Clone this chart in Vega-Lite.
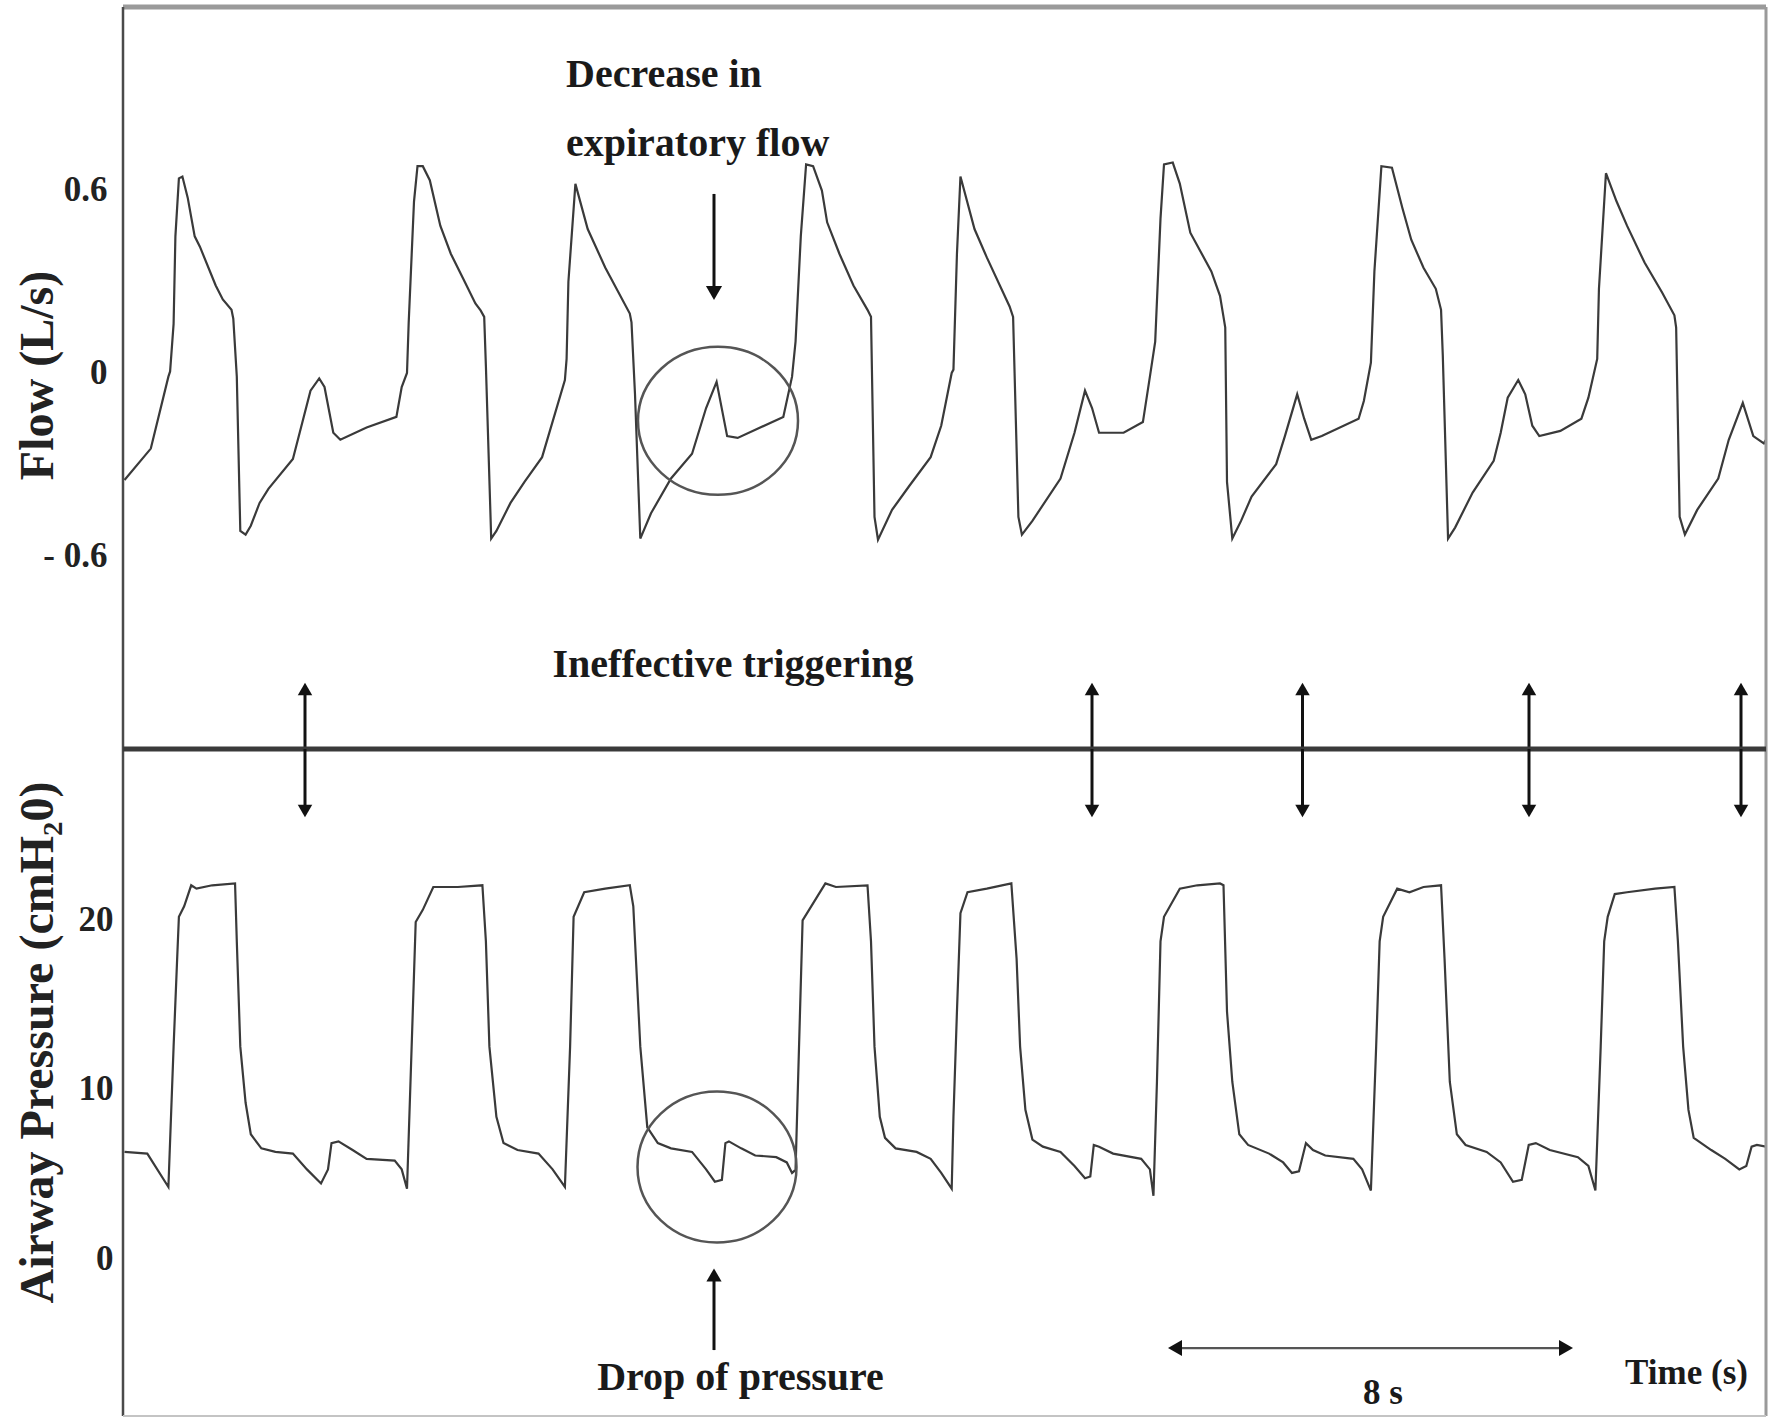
{
  "$schema": "https://vega.github.io/schema/vega-lite/v6.json",
  "background": "white",
  "padding": {"left": 13, "top": 4, "right": 0, "bottom": 0},
  "spacing": 0,
  "bounds": "flush",
  "config": {
    "view": {"stroke": null},
    "font": "Liberation Serif",
    "axis": {
      "labelFont": "Liberation Serif", "labelFontWeight": "bold", "labelFontSize": 35, "labelColor": "#222222",
      "titleFont": "Liberation Serif", "titleFontWeight": "bold", "titleFontSize": 48, "titleColor": "#222222",
      "titleAngle": 270, "titleAlign": "center", "titleBaseline": "middle",
      "ticks": false, "domain": false, "grid": false, "labelOverlap": false
    }
  },
  "datasets": {
    "one": [{}],
    "flow": [
      {"t":0.03,"flow":-0.351},{"t":0.556,"flow":-0.248},{"t":0.908,"flow":-0.012},{"t":0.942,"flow":0.005},{"t":1.012,"flow":0.161},{"t":1.048,"flow":0.448},{"t":1.118,"flow":0.638},{"t":1.188,"flow":0.644},{"t":1.294,"flow":0.575},{"t":1.434,"flow":0.448},{"t":1.538,"flow":0.414},{"t":1.854,"flow":0.287},{"t":1.996,"flow":0.241},{"t":2.17,"flow":0.207},{"t":2.206,"flow":0.178},{"t":2.276,"flow":-0.012},{"t":2.346,"flow":-0.518},{"t":2.452,"flow":-0.53},{"t":2.556,"flow":-0.501},{"t":2.732,"flow":-0.426},{"t":2.908,"flow":-0.38},{"t":3.398,"flow":-0.282},{"t":3.75,"flow":-0.058},{"t":3.924,"flow":-0.018},{"t":4.03,"flow":-0.046},{"t":4.206,"flow":-0.196},{"t":4.346,"flow":-0.219},{"t":4.872,"flow":-0.179},{"t":5.468,"flow":-0.144},{"t":5.574,"flow":-0.046},{"t":5.68,"flow":0.0},{"t":5.714,"flow":0.166},{"t":5.82,"flow":0.562},{"t":5.89,"flow":0.678},{"t":5.996,"flow":0.678},{"t":6.136,"flow":0.632},{"t":6.346,"flow":0.483},{"t":6.556,"flow":0.391},{"t":6.802,"flow":0.31},{"t":7.048,"flow":0.228},{"t":7.152,"flow":0.205},{"t":7.224,"flow":0.184},{"t":7.258,"flow":0.023},{"t":7.364,"flow":-0.543},{"t":7.468,"flow":-0.518},{"t":7.75,"flow":-0.426},{"t":8.03,"flow":-0.357},{"t":8.382,"flow":-0.276},{"t":8.838,"flow":-0.023},{"t":8.872,"flow":0.046},{"t":8.908,"flow":0.299},{"t":9.048,"flow":0.62},{"t":9.294,"flow":0.472},{"t":9.644,"flow":0.346},{"t":10.136,"flow":0.195},{"t":10.17,"flow":0.166},{"t":10.24,"flow":-0.07},{"t":10.346,"flow":-0.543},{"t":10.56,"flow":-0.46},{"t":10.96,"flow":-0.346},{"t":11.381,"flow":-0.265},{"t":11.662,"flow":-0.115},{"t":11.872,"flow":-0.029},{"t":12.083,"flow":-0.207},{"t":12.293,"flow":-0.213},{"t":13.206,"flow":-0.144},{"t":13.381,"flow":-0.012},{"t":13.451,"flow":0.103},{"t":13.556,"flow":0.448},{"t":13.662,"flow":0.684},{"t":13.802,"flow":0.678},{"t":13.978,"flow":0.598},{"t":14.083,"flow":0.494},{"t":14.328,"flow":0.391},{"t":14.609,"flow":0.287},{"t":14.89,"flow":0.207},{"t":14.96,"flow":0.184},{"t":15.03,"flow":-0.472},{"t":15.1,"flow":-0.547},{"t":15.381,"flow":-0.449},{"t":15.732,"flow":-0.369},{"t":16.153,"flow":-0.276},{"t":16.364,"flow":-0.173},{"t":16.574,"flow":0.0},{"t":16.609,"flow":0.011},{"t":16.679,"flow":0.391},{"t":16.749,"flow":0.644},{"t":17.03,"flow":0.472},{"t":17.276,"flow":0.379},{"t":17.732,"flow":0.218},{"t":17.802,"flow":0.184},{"t":17.908,"flow":-0.472},{"t":17.978,"flow":-0.53},{"t":18.188,"flow":-0.485},{"t":18.75,"flow":-0.346},{"t":19.03,"flow":-0.196},{"t":19.24,"flow":-0.058},{"t":19.381,"flow":-0.115},{"t":19.521,"flow":-0.196},{"t":20.012,"flow":-0.196},{"t":20.398,"flow":-0.161},{"t":20.538,"flow":-0.012},{"t":20.644,"flow":0.103},{"t":20.75,"flow":0.506},{"t":20.82,"flow":0.684},{"t":20.995,"flow":0.69},{"t":21.136,"flow":0.621},{"t":21.346,"flow":0.46},{"t":21.767,"flow":0.333},{"t":21.94,"flow":0.253},{"t":22.01,"flow":0.184},{"t":22.045,"flow":0.149},{"t":22.08,"flow":-0.357},{"t":22.186,"flow":-0.543},{"t":22.361,"flow":-0.485},{"t":22.572,"flow":-0.405},{"t":23.063,"flow":-0.299},{"t":23.238,"flow":-0.207},{"t":23.484,"flow":-0.07},{"t":23.624,"flow":-0.15},{"t":23.765,"flow":-0.219},{"t":23.975,"flow":-0.207},{"t":24.712,"flow":-0.15},{"t":24.817,"flow":-0.092},{"t":24.958,"flow":0.034},{"t":25.028,"flow":0.333},{"t":25.168,"flow":0.678},{"t":25.379,"flow":0.673},{"t":25.589,"flow":0.54},{"t":25.765,"flow":0.437},{"t":26.01,"flow":0.345},{"t":26.256,"flow":0.276},{"t":26.361,"flow":0.207},{"t":26.396,"flow":0.057},{"t":26.501,"flow":-0.543},{"t":26.642,"flow":-0.507},{"t":26.993,"flow":-0.392},{"t":27.414,"flow":-0.288},{"t":27.554,"flow":-0.196},{"t":27.694,"flow":-0.081},{"t":27.905,"flow":-0.023},{"t":28.045,"flow":-0.07},{"t":28.186,"flow":-0.173},{"t":28.326,"flow":-0.207},{"t":28.747,"flow":-0.19},{"t":29.168,"flow":-0.15},{"t":29.308,"flow":-0.081},{"t":29.484,"flow":0.046},{"t":29.519,"flow":0.276},{"t":29.659,"flow":0.655},{"t":29.87,"flow":0.563},{"t":30.08,"flow":0.483},{"t":30.431,"flow":0.362},{"t":30.782,"flow":0.264},{"t":31.028,"flow":0.189},{"t":31.063,"flow":0.149},{"t":31.133,"flow":-0.472},{"t":31.238,"flow":-0.53},{"t":31.484,"flow":-0.449},{"t":31.905,"flow":-0.346},{"t":32.115,"flow":-0.219},{"t":32.396,"flow":-0.098},{"t":32.606,"flow":-0.207},{"t":32.817,"flow":-0.231},{"t":32.86,"flow":-0.219}
    ],
    "pressure": [
      {"t":0.03,"pressure":6.26},{"t":0.486,"pressure":6.16},{"t":0.908,"pressure":4.19},{"t":1.012,"pressure":12.47},{"t":1.083,"pressure":17.65},{"t":1.118,"pressure":20.13},{"t":1.223,"pressure":20.75},{"t":1.364,"pressure":21.99},{"t":1.469,"pressure":21.79},{"t":1.785,"pressure":21.99},{"t":2.241,"pressure":22.1},{"t":2.276,"pressure":18.68},{"t":2.346,"pressure":12.47},{"t":2.452,"pressure":9.16},{"t":2.556,"pressure":7.3},{"t":2.767,"pressure":6.47},{"t":3.048,"pressure":6.26},{"t":3.398,"pressure":6.16},{"t":3.679,"pressure":5.23},{"t":3.96,"pressure":4.4},{"t":4.1,"pressure":5.23},{"t":4.17,"pressure":6.78},{"t":4.31,"pressure":6.88},{"t":4.592,"pressure":6.37},{"t":4.872,"pressure":5.85},{"t":5.434,"pressure":5.75},{"t":5.574,"pressure":5.23},{"t":5.68,"pressure":4.09},{"t":5.75,"pressure":10.4},{"t":5.854,"pressure":19.82},{"t":5.996,"pressure":20.54},{"t":6.206,"pressure":21.89},{"t":6.696,"pressure":21.89},{"t":7.188,"pressure":21.99},{"t":7.258,"pressure":18.68},{"t":7.328,"pressure":12.47},{"t":7.468,"pressure":8.33},{"t":7.61,"pressure":6.78},{"t":7.89,"pressure":6.37},{"t":8.31,"pressure":6.16},{"t":8.592,"pressure":5.23},{"t":8.838,"pressure":4.19},{"t":8.942,"pressure":12.47},{"t":9.012,"pressure":20.13},{"t":9.224,"pressure":21.58},{"t":9.644,"pressure":21.79},{"t":10.136,"pressure":21.99},{"t":10.206,"pressure":20.75},{"t":10.346,"pressure":12.47},{"t":10.486,"pressure":7.71},{"t":10.696,"pressure":6.78},
      {"t":10.96,"pressure":6.47},{"t":11.381,"pressure":6.26},{"t":11.662,"pressure":5.23},{"t":11.837,"pressure":4.5},{"t":11.978,"pressure":4.61},{"t":12.048,"pressure":6.78},{"t":12.118,"pressure":6.88},{"t":12.364,"pressure":6.47},{"t":12.644,"pressure":6.05},{"t":13.065,"pressure":5.95},{"t":13.276,"pressure":5.64},{"t":13.381,"pressure":5.02},{"t":13.451,"pressure":5.2},{"t":13.592,"pressure":19.92},{"t":14.048,"pressure":22.1},{"t":14.258,"pressure":21.89},{"t":14.89,"pressure":21.99},{"t":14.96,"pressure":18.68},{"t":15.03,"pressure":12.47},{"t":15.136,"pressure":8.33},{"t":15.24,"pressure":7.09},{"t":15.452,"pressure":6.47},{"t":15.872,"pressure":6.26},{"t":16.153,"pressure":5.85},{"t":16.364,"pressure":5.02},{"t":16.574,"pressure":4.09},{"t":16.609,"pressure":8.33},{"t":16.679,"pressure":14.54},{"t":16.749,"pressure":20.34},{"t":16.89,"pressure":21.58},{"t":17.276,"pressure":21.79},{"t":17.767,"pressure":22.1},{"t":17.872,"pressure":17.65},{"t":17.942,"pressure":12.47},{"t":18.048,"pressure":8.74},{"t":18.188,"pressure":6.99},{"t":18.398,"pressure":6.57},{"t":18.75,"pressure":6.26},{"t":19.03,"pressure":5.43},{"t":19.24,"pressure":4.71},{"t":19.346,"pressure":4.81},{"t":19.416,"pressure":6.67},{"t":19.521,"pressure":6.57},{"t":19.802,"pressure":6.16},{"t":20.364,"pressure":5.85},{"t":20.538,"pressure":5.23},{"t":20.609,"pressure":3.67},{"t":20.679,"pressure":10.4},{"t":20.75,"pressure":18.68},{"t":20.82,"pressure":20.13},{"t":21.136,"pressure":21.79},{"t":21.486,"pressure":21.99},
      {"t":21.94,"pressure":22.1},{"t":22.01,"pressure":21.99},{"t":22.08,"pressure":14.54},{"t":22.186,"pressure":10.4},{"t":22.326,"pressure":7.3},{"t":22.501,"pressure":6.67},{"t":22.922,"pressure":6.16},{"t":23.203,"pressure":5.64},{"t":23.379,"pressure":5.02},{"t":23.519,"pressure":5.12},{"t":23.659,"pressure":6.78},{"t":23.8,"pressure":6.37},{"t":24.045,"pressure":6.05},{"t":24.607,"pressure":5.85},{"t":24.782,"pressure":5.23},{"t":24.958,"pressure":3.98},{"t":25.063,"pressure":12.47},{"t":25.133,"pressure":18.68},{"t":25.203,"pressure":20.13},{"t":25.484,"pressure":21.79},{"t":25.729,"pressure":21.58},{"t":26.01,"pressure":21.89},{"t":26.361,"pressure":21.99},{"t":26.431,"pressure":17.65},{"t":26.536,"pressure":10.4},{"t":26.677,"pressure":7.3},{"t":26.852,"pressure":6.67},{"t":27.273,"pressure":6.26},{"t":27.554,"pressure":5.64},{"t":27.8,"pressure":4.5},{"t":27.975,"pressure":4.61},{"t":28.115,"pressure":6.67},{"t":28.256,"pressure":6.78},{"t":28.536,"pressure":6.37},{"t":29.098,"pressure":5.95},{"t":29.308,"pressure":5.43},{"t":29.448,"pressure":3.98},{"t":29.554,"pressure":12.47},{"t":29.624,"pressure":18.68},{"t":29.694,"pressure":20.13},{"t":29.835,"pressure":21.47},{"t":30.08,"pressure":21.58},{"t":30.642,"pressure":21.79},{"t":31.028,"pressure":21.89},{"t":31.098,"pressure":18.68},{"t":31.203,"pressure":12.47},{"t":31.309,"pressure":8.74},{"t":31.414,"pressure":7.09},{"t":31.765,"pressure":6.37},{"t":32.045,"pressure":5.85},{"t":32.326,"pressure":5.23},{"t":32.466,"pressure":5.43},{"t":32.572,"pressure":6.57},{"t":32.677,"pressure":6.67},{"t":32.86,"pressure":6.57}
    ],
    "trigger": [{"t":3.64},{"t":19.38},{"t":23.59},{"t":28.12},{"t":32.36}]
  },
  "vconcat": [
    {
      "width": 1643,
      "height": 742,
      "layer": [
        {
          "data": {"name": "flow"},
          "mark": {"type": "line", "color": "#3a3a3a", "strokeWidth": 2.2, "clip": true},
          "encoding": {
            "x": {"field": "t", "type": "quantitative", "scale": {"domain": [0, 32.86], "nice": false, "zero": false}, "axis": null},
            "y": {"field": "flow", "type": "quantitative", "scale": {"domain": [-1.233, 1.2], "nice": false, "zero": false},
              "axis": {"values": [0.6, 0, -0.6], "labelExpr": "datum.value > 0 ? '0.6' : (datum.value < 0 ? '- 0.6' : '0')", "labelPadding": 16, "title": "Flow (L/s)", "titleX": -85, "titleY": 368}}
          }
        },
        {
          "data": {"name": "one"},
          "mark": {"type": "rule", "color": "#9a9a9a", "strokeWidth": 5},
          "encoding": {"y": {"datum": 1.2, "type": "quantitative"}}
        },
        {
          "data": {"name": "one"},
          "mark": {"type": "rule", "color": "#4a4a4a", "strokeWidth": 2.5},
          "encoding": {"x": {"datum": 0, "type": "quantitative"}}
        },
        {
          "data": {"name": "one"},
          "mark": {"type": "rule", "color": "#9a9a9a", "strokeWidth": 3},
          "encoding": {"x": {"datum": 32.86, "type": "quantitative"}}
        },
        {
          "data": {"values": [{"t": 11.9, "flow": -0.157}]},
          "mark": {"type": "point", "shape": "M-1,0A1,0.925,0,1,1,1,0A1,0.925,0,1,1,-1,0Z", "size": 25600, "filled": false, "color": "#555555", "strokeWidth": 2.5, "opacity": 1},
          "encoding": {
            "x": {"field": "t", "type": "quantitative"},
            "y": {"field": "flow", "type": "quantitative"}
          }
        },
        {
          "data": {"values": [{"t": 11.82, "flow": 0.587, "flow2": 0.28}]},
          "mark": {"type": "rule", "color": "#111111", "strokeWidth": 3},
          "encoding": {
            "x": {"field": "t", "type": "quantitative"},
            "y": {"field": "flow", "type": "quantitative"},
            "y2": {"field": "flow2"}
          }
        },
        {
          "data": {"values": [{"t": 11.82, "flow": 0.262}]},
          "mark": {"type": "point", "shape": "triangle-down", "size": 260, "filled": true, "color": "#111111", "opacity": 1},
          "encoding": {
            "x": {"field": "t", "type": "quantitative"},
            "y": {"field": "flow", "type": "quantitative"}
          }
        },
        {
          "data": {"name": "trigger"},
          "mark": {"type": "rule", "color": "#111111", "strokeWidth": 3},
          "encoding": {
            "x": {"field": "t", "type": "quantitative"},
            "y": {"datum": -1.05, "type": "quantitative"},
            "y2": {"datum": -1.233}
          }
        },
        {
          "data": {"name": "trigger"},
          "mark": {"type": "point", "shape": "triangle-up", "size": 210, "filled": true, "color": "#111111", "opacity": 1},
          "encoding": {
            "x": {"field": "t", "type": "quantitative"},
            "y": {"datum": -1.036, "type": "quantitative"}
          }
        },
        {
          "data": {"values": [{"t": 8.86, "flow": 0.938, "label": "Decrease in"}, {"t": 8.86, "flow": 0.711, "label": "expiratory flow"}]},
          "mark": {"type": "text", "align": "left", "baseline": "alphabetic", "font": "Liberation Serif", "fontWeight": "bold", "fontSize": 40, "color": "#1a1a1a"},
          "encoding": {
            "x": {"field": "t", "type": "quantitative"},
            "y": {"field": "flow", "type": "quantitative"},
            "text": {"field": "label"}
          }
        },
        {
          "data": {"values": [{"t": 12.2, "flow": -0.997, "label": "Ineffective triggering"}]},
          "mark": {"type": "text", "align": "center", "baseline": "alphabetic", "font": "Liberation Serif", "fontWeight": "bold", "fontSize": 40, "color": "#1a1a1a"},
          "encoding": {
            "x": {"field": "t", "type": "quantitative"},
            "y": {"field": "flow", "type": "quantitative"},
            "text": {"field": "label"}
          }
        }
      ]
    },
    {
      "width": 1643,
      "height": 667,
      "layer": [
        {
          "data": {"name": "pressure"},
          "mark": {"type": "line", "color": "#3a3a3a", "strokeWidth": 2.2, "clip": true},
          "encoding": {
            "x": {"field": "t", "type": "quantitative", "scale": {"domain": [0, 32.86], "nice": false, "zero": false}, "axis": null},
            "y": {"field": "pressure", "type": "quantitative", "scale": {"domain": [-9.32, 30.03], "nice": false, "zero": false},
              "axis": {"values": [20, 10, 0], "labelPadding": 10, "title": "Airway Pressure (cmH₂0)", "titleX": -85, "titleY": 293}}
          }
        },
        {
          "data": {"name": "one"},
          "mark": {"type": "rule", "color": "#4a4a4a", "strokeWidth": 2.5},
          "encoding": {"x": {"datum": 0, "type": "quantitative"}}
        },
        {
          "data": {"name": "one"},
          "mark": {"type": "rule", "color": "#9a9a9a", "strokeWidth": 3},
          "encoding": {"x": {"datum": 32.86, "type": "quantitative"}}
        },
        {
          "data": {"name": "one"},
          "mark": {"type": "rule", "color": "#c4c4c4", "strokeWidth": 2},
          "encoding": {"y": {"datum": -9.32, "type": "quantitative"}}
        },
        {
          "data": {"name": "one"},
          "mark": {"type": "rule", "color": "#3a3a3a", "strokeWidth": 5},
          "encoding": {"y": {"datum": 30.03, "type": "quantitative"}}
        },
        {
          "data": {"values": [{"t": 11.88, "pressure": 5.37}]},
          "mark": {"type": "point", "shape": "M-1,0A1,0.95,0,1,1,1,0A1,0.95,0,1,1,-1,0Z", "size": 25281, "filled": false, "color": "#555555", "strokeWidth": 2.5, "opacity": 1},
          "encoding": {
            "x": {"field": "t", "type": "quantitative"},
            "y": {"field": "pressure", "type": "quantitative"}
          }
        },
        {
          "data": {"values": [{"t": 11.82, "pressure": -1.2, "pressure2": -5.43}]},
          "mark": {"type": "rule", "color": "#111111", "strokeWidth": 3},
          "encoding": {
            "x": {"field": "t", "type": "quantitative"},
            "y": {"field": "pressure", "type": "quantitative"},
            "y2": {"field": "pressure2"}
          }
        },
        {
          "data": {"values": [{"t": 11.82, "pressure": -1.0}]},
          "mark": {"type": "point", "shape": "triangle-up", "size": 230, "filled": true, "color": "#111111", "opacity": 1},
          "encoding": {
            "x": {"field": "t", "type": "quantitative"},
            "y": {"field": "pressure", "type": "quantitative"}
          }
        },
        {
          "data": {"name": "trigger"},
          "mark": {"type": "rule", "color": "#111111", "strokeWidth": 3},
          "encoding": {
            "x": {"field": "t", "type": "quantitative"},
            "y": {"datum": 30.03, "type": "quantitative"},
            "y2": {"datum": 26.6}
          }
        },
        {
          "data": {"name": "trigger"},
          "mark": {"type": "point", "shape": "triangle-down", "size": 210, "filled": true, "color": "#111111", "opacity": 1},
          "encoding": {
            "x": {"field": "t", "type": "quantitative"},
            "y": {"datum": 26.37, "type": "quantitative"}
          }
        },
        {
          "data": {"values": [{"t": 21.04, "t2": 28.86, "pressure": -5.31}]},
          "mark": {"type": "rule", "color": "#555555", "strokeWidth": 2.2},
          "encoding": {
            "x": {"field": "t", "type": "quantitative"},
            "x2": {"field": "t2"},
            "y": {"field": "pressure", "type": "quantitative"}
          }
        },
        {
          "data": {"values": [{"t": 21.04, "pressure": -5.31, "dir": "triangle-left"}, {"t": 28.86, "pressure": -5.31, "dir": "triangle-right"}]},
          "mark": {"type": "point", "size": 260, "filled": true, "color": "#111111", "opacity": 1},
          "encoding": {
            "x": {"field": "t", "type": "quantitative"},
            "y": {"field": "pressure", "type": "quantitative"},
            "shape": {"field": "dir", "type": "nominal", "scale": {"domain": ["triangle-left", "triangle-right"], "range": ["triangle-left", "triangle-right"]}, "legend": null}
          }
        },
        {
          "data": {"values": [{"t": 12.35, "pressure": -7.79, "label": "Drop of pressure"}]},
          "mark": {"type": "text", "align": "center", "baseline": "alphabetic", "font": "Liberation Serif", "fontWeight": "bold", "fontSize": 40, "color": "#1a1a1a"},
          "encoding": {
            "x": {"field": "t", "type": "quantitative"},
            "y": {"field": "pressure", "type": "quantitative"},
            "text": {"field": "label"}
          }
        },
        {
          "data": {"values": [{"t": 25.2, "pressure": -8.6, "label": "8 s"}, {"t": 31.27, "pressure": -7.43, "label": "Time (s)"}]},
          "mark": {"type": "text", "align": "center", "baseline": "alphabetic", "font": "Liberation Serif", "fontWeight": "bold", "fontSize": 35, "color": "#1a1a1a"},
          "encoding": {
            "x": {"field": "t", "type": "quantitative"},
            "y": {"field": "pressure", "type": "quantitative"},
            "text": {"field": "label"}
          }
        }
      ]
    }
  ]
}
